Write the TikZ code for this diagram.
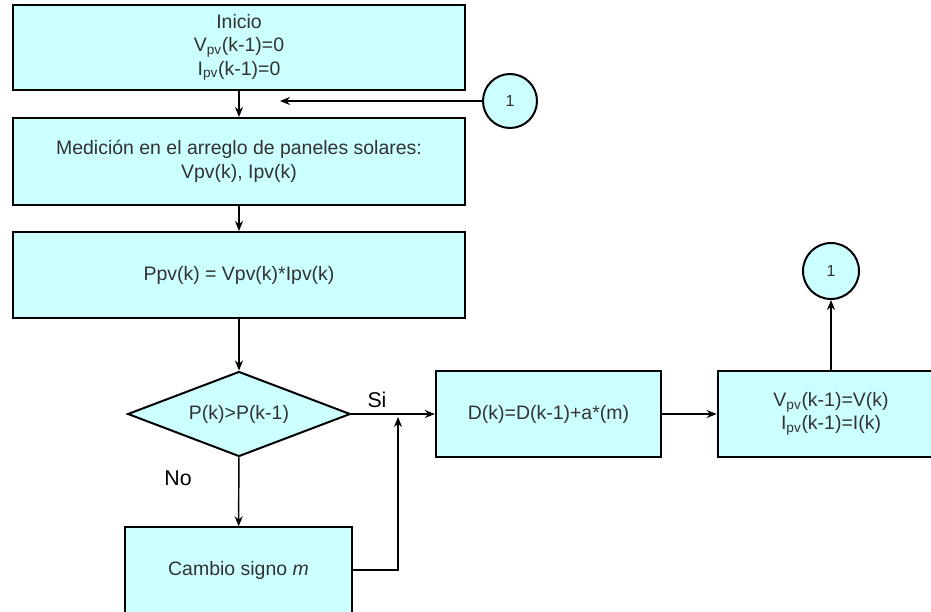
\documentclass[tikz,border=0pt]{standalone}
\usepackage{fontspec}
\setmainfont{Liberation Sans}
\usetikzlibrary{positioning,shapes.geometric,arrows.meta}

\definecolor{boxcyan}{RGB}{204,255,255}
\definecolor{txtgray}{RGB}{50,50,50}

\begin{document}
\begin{tikzpicture}[%
    x=0.75pt,
    y=-0.75pt,
    >={Stealth[length=7.5pt,width=6pt]},
    line width=1.1pt,
    block/.style={%
      rectangle,
      draw,
      line width=1.5pt,
      fill=boxcyan,
      text=txtgray,
      align=center,
      font=\fontsize{14.6}{17.5}\selectfont,
      inner sep=0pt
    },
    test/.style={%
      block,
      diamond,
      shape aspect=2.6,
      minimum width=167pt,
      minimum height=63.75pt
    },
    connector/.style={%
      circle,
      draw,
      line width=1.5pt,
      fill=boxcyan,
      text=txtgray,
      font=\fontsize{12}{14}\selectfont,
      inner sep=0pt
    },
    branch/.style={%
      text=black,
      font=\fontsize{16}{19}\selectfont
    }
  ]
    \useasboundingbox (0,0) rectangle (931,611);

    \node[block, minimum width=339pt, minimum height=63.75pt] (start)   at (239,47.5)  {Inicio\\V\textsubscript{pv}(k-1)=0\\I\textsubscript{pv}(k-1)=0};
    \node[block, minimum width=339pt, minimum height=65.25pt] (measure) at (239,161.5) {Medición en el arreglo de paneles solares:\\Vpv(k), Ipv(k)};
    \node[block, minimum width=339pt, minimum height=64.5pt]  (power)   at (239,275)   {Ppv(k) = Vpv(k)*Ipv(k)};
    \node[test]                                               (compare) at (239,414)   {P(k)>P(k-1)};
    \node[block, minimum width=170pt, minimum height=64pt]    (sign)    at (238.5,570) {Cambio signo \textit{m}};
    \node[block, minimum width=169pt, minimum height=64pt]    (duty)    at (548.5,414) {D(k)=D(k-1)+a*(m)};
    \node[block, minimum width=170pt, minimum height=64pt]    (store)   at (831,414)   {V\textsubscript{pv}(k-1)=V(k)\\I\textsubscript{pv}(k-1)=I(k)};
    \node[connector, minimum size=40.5pt] (goin)  at (510,101) {1};
    \node[connector, minimum size=42pt]   (goout) at (831,271) {1};

    \coordinate (entry) at (280,101);
    \coordinate (merge) at (398,417);

    \node[branch] (si) at (377,400) {Si};
    \node[branch] (no) at (178,478) {No};

    \draw[->] (start)   -- (measure);
    \draw[->] (goin)    -- (entry);
    \draw[->] (measure) -- (power);
    \draw[->] (power)   -- (compare);
    \draw[->] (compare) -- (sign);
    \draw[->] (compare) -- (duty);
    \draw[->] (sign.east) -| (merge);
    \draw[->] (duty)    -- (store);
    \draw[->] (store)   -- (goout);
  \end{tikzpicture}
\end{document}
